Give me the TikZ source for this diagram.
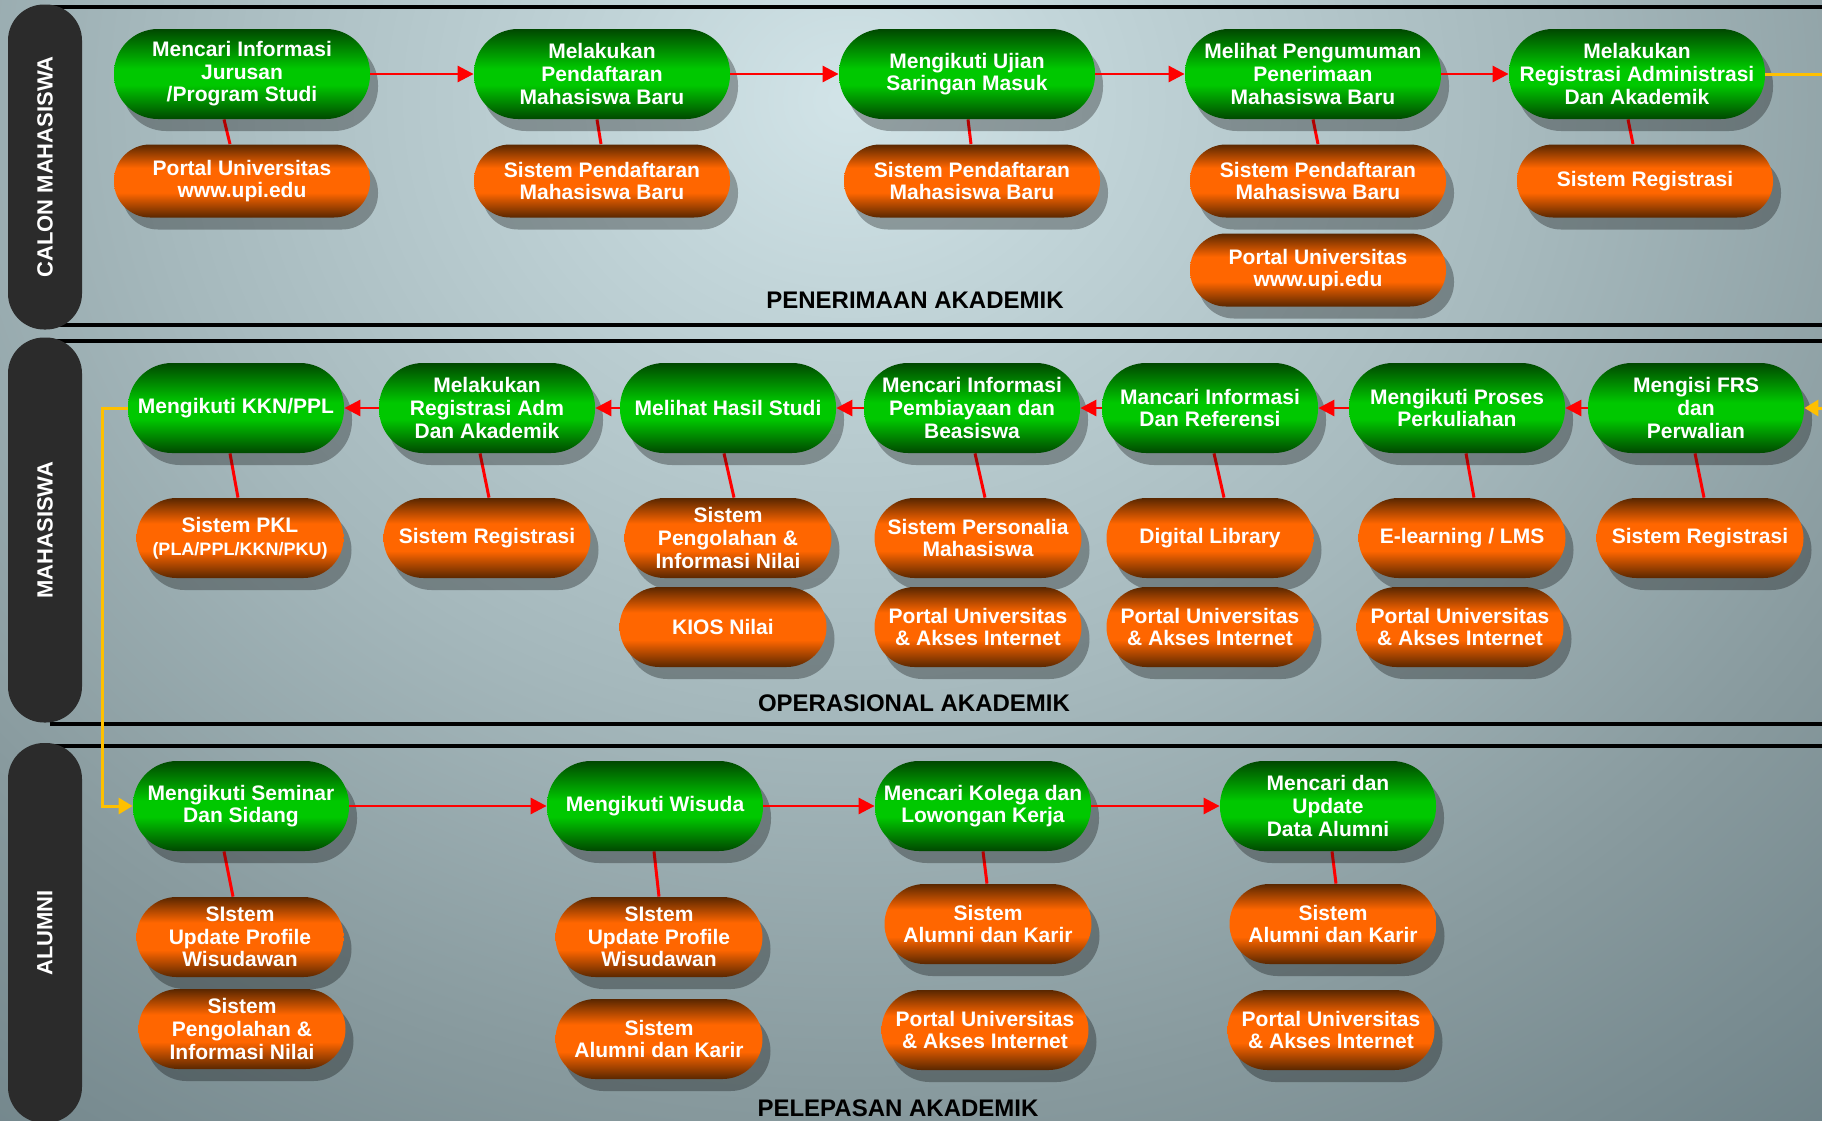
\documentclass[tikz,border=0pt]{standalone}
\usepackage{fontspec}
\setmainfont{Liberation Sans}
\usetikzlibrary{arrows.meta,shadows,backgrounds}

\definecolor{actdark}{HTML}{004800}
\definecolor{actlite}{HTML}{00C800}
\definecolor{sysdark}{HTML}{5A2700}
\definecolor{syslite}{HTML}{FF6600}
\definecolor{flowred}{HTML}{FF0000}
\definecolor{passgold}{HTML}{FFC000}
\definecolor{barfill}{HTML}{2B2B2B}
\definecolor{bgA}{HTML}{D2E4E8}
\definecolor{bgB}{HTML}{C2D5D9}
\definecolor{bgC}{HTML}{A5B8BC}
\definecolor{bgD}{HTML}{87999D}
\definecolor{bgE}{HTML}{6B7F85}

\pgfdeclareverticalshading{actshade}{100bp}{color(0bp)=(actdark); color(25bp)=(actdark); color(44bp)=(actlite); color(53bp)=(actlite); color(75bp)=(actdark); color(100bp)=(actdark)}
\pgfdeclareverticalshading{sysshade}{100bp}{color(0bp)=(sysdark); color(25bp)=(sysdark); color(42bp)=(syslite); color(59bp)=(syslite); color(75bp)=(sysdark); color(100bp)=(sysdark)}
\pgfdeclareradialshading{panelglow}{\pgfpointorigin}{color(0bp)=(bgA); color(3.5bp)=(bgB); color(11bp)=(bgC); color(18bp)=(bgD); color(25bp)=(bgE); color(50bp)=(bgE)}

\begin{document}
\begin{tikzpicture}[x=0.5pt, y=-0.5pt,
  act/.style={rectangle, rounded corners=22pt, minimum width=108pt, minimum height=45pt, inner sep=0pt, align=center, text=white, shading=actshade, drop shadow={shadow xshift=4pt, shadow yshift=-6pt, fill=black, opacity=0.3}, font=\fontsize{10.5}{11.3}\selectfont\bfseries},
  sys/.style={act, rounded corners=20pt, minimum width=103.5pt, minimum height=40pt, shading=sysshade},
  wide/.style={minimum width=128pt},
  slim/.style={minimum height=36.5pt, rounded corners=18pt},
  lane/.style={rectangle, rounded corners=18pt, fill=barfill, text=white, minimum height=37pt, minimum width=#1, inner sep=0pt, rotate=90, font=\fontsize{11}{13}\selectfont\bfseries},
  phase/.style={font=\fontsize{12}{14}\selectfont\bfseries},
  rule/.style={line width=2pt},
  flow/.style={flowred, line width=1.4pt, -{Triangle[length=8pt,width=8pt]}},
  tie/.style={flowred, line width=1.5pt},
  handoff/.style={passgold, line width=1.5pt}]
\useasboundingbox (0,0) rectangle (1822,1120);
\begin{scope}[on background layer]
\fill[bgE] (0,0) rectangle (1822,1120);
\shade[shading=panelglow] (850,100) ellipse [x radius=800pt, y radius=700pt];
\foreach \y in {7,325,341,724,746}
  \draw[rule] (50,\y) -- (1830,\y);
\end{scope}

\node[lane=162.5pt] (calon) at (45,167) {CALON MAHASISWA};
\node[lane=192.5pt] (mhs) at (45,530) {MAHASISWA};
\node[lane=190pt] (alumni) at (45,933) {ALUMNI};

\node[act, wide] (mencari) at (242,74) {Mencari Informasi\\Jurusan\\/Program Studi};
\node[act, wide] (daftar) at (602,74) {Melakukan\\Pendaftaran\\Mahasiswa Baru};
\node[act, wide] (ujian) at (967,74) {Mengikuti Ujian\\Saringan Masuk};
\node[act, wide] (umum) at (1313,74) {Melihat Pengumuman\\Penerimaan\\Mahasiswa Baru};
\node[act, wide] (regadm) at (1637,74) {Melakukan\\Registrasi Administrasi\\Dan Akademik};
\node[sys, wide, slim] (portal) at (242,181) {Portal Universitas\\www.upi.edu};
\node[sys, wide, slim] (sisdaftar) at (602,181) {Sistem Pendaftaran\\Mahasiswa Baru};
\node[sys, wide, slim] (sisujian) at (972,181) {Sistem Pendaftaran\\Mahasiswa Baru};
\node[sys, wide, slim] (sisumum) at (1318,181) {Sistem Pendaftaran\\Mahasiswa Baru};
\node[sys, wide, slim] (portalumum) at (1318,270) {Portal Universitas\\www.upi.edu};
\node[sys, wide, slim] (sisreg) at (1645,181) {Sistem Registrasi};
\node[phase] (terima) at (915,300) {PENERIMAAN AKADEMIK};

\node[act] (kkn) at (236,408) {Mengikuti KKN/PPL};
\node[act] (regakad) at (487,408) {Melakukan\\Registrasi Adm\\Dan Akademik};
\node[act] (hasil) at (728,408) {Melihat Hasil Studi};
\node[act] (biaya) at (972,408) {Mencari Informasi\\Pembiayaan dan\\Beasiswa};
\node[act] (referensi) at (1210,408) {Mancari Informasi\\Dan Referensi};
\node[act] (kuliah) at (1457,408) {Mengikuti Proses\\Perkuliahan};
\node[act] (frs) at (1696,408) {Mengisi FRS\\dan\\Perwalian};
\node[sys] (pkl) at (240,538) {Sistem PKL\\{\fontsize{9}{10.5}\selectfont(PLA/PPL/KKN/PKU)}};
\node[sys] (sisregB) at (487,538) {Sistem Registrasi};
\node[sys] (olahnilai) at (728,538) {Sistem\\Pengolahan \&\\Informasi Nilai};
\node[sys] (personalia) at (978,538) {Sistem Personalia\\Mahasiswa};
\node[sys] (library) at (1210,538) {Digital Library};
\node[sys] (lms) at (1462,538) {E-learning / LMS};
\node[sys] (sisregC) at (1700,538) {Sistem Registrasi};
\node[sys] (kios) at (723,627) {KIOS Nilai};
\node[sys] (portalB) at (978,627) {Portal Universitas\\\& Akses Internet};
\node[sys] (portalC) at (1210,627) {Portal Universitas\\\& Akses Internet};
\node[sys] (portalD) at (1460,627) {Portal Universitas\\\& Akses Internet};
\node[phase] (operasi) at (914,703) {OPERASIONAL AKADEMIK};

\node[act] (seminar) at (241,806) {Mengikuti Seminar\\Dan Sidang};
\node[act] (wisuda) at (655,806) {Mengikuti Wisuda};
\node[act] (kolega) at (983,806) {Mencari Kolega dan\\Lowongan Kerja};
\node[act] (updatedata) at (1328,806) {Mencari dan\\Update\\Data Alumni};
\node[sys] (profileA) at (240,937) {SIstem\\Update Profile\\Wisudawan};
\node[sys] (profileB) at (659,937) {SIstem\\Update Profile\\Wisudawan};
\node[sys] (karirA) at (988,924) {Sistem\\Alumni dan Karir};
\node[sys] (karirB) at (1333,924) {Sistem\\Alumni dan Karir};
\node[sys] (olahnilaiC) at (242,1029) {Sistem\\Pengolahan \&\\Informasi Nilai};
\node[sys] (karirC) at (659,1039) {Sistem\\Alumni dan Karir};
\node[sys] (portalE) at (985,1030) {Portal Universitas\\\& Akses Internet};
\node[sys] (portalF) at (1331,1030) {Portal Universitas\\\& Akses Internet};
\node[phase] (lepas) at (898,1108) {PELEPASAN AKADEMIK};

\begin{scope}[on background layer]
\foreach \g/\s/\a/\b in {mencari/portal/-9/-6, daftar/sisdaftar/-2.5/-0.5, ujian/sisujian/0.5/-0.5, umum/sisumum/0/0, regadm/sisreg/-4.5/-6,
    kkn/pkl/-3/-1, regakad/sisregB/-3.5/1, hasil/olahnilai/-2/3, biaya/personalia/1.5/3.5, referensi/library/2/7, kuliah/lms/4.5/6, frs/sisregC/-0.5/2,
    seminar/profileA/-8.5/-3.5, wisuda/profileB/-0.5/0, kolega/karirA/0/-0.5, updatedata/karirB/2/1.5}
  \draw[tie] ([xshift=\a pt]\g.south) -- ([xshift=\b pt]\s.north);
\end{scope}

\draw[flow] (mencari) -- (daftar);
\draw[flow] (daftar) -- (ujian);
\draw[flow] (ujian) -- (umum);
\draw[flow] (umum) -- (regadm);
\draw[flow] (frs) -- (kuliah);
\draw[flow] (kuliah) -- (referensi);
\draw[flow] (referensi) -- (biaya);
\draw[flow] (biaya) -- (hasil);
\draw[flow] (hasil) -- (regakad);
\draw[flow] (regakad) -- (kkn);
\draw[flow] (seminar) -- (wisuda);
\draw[flow] (wisuda) -- (kolega);
\draw[flow] (kolega) -- (updatedata);

\coordinate (outA) at (1840,74);
\coordinate (inB) at (1840,408);
\draw[handoff] (regadm.east) -- (outA);
\draw[handoff, -{Triangle[length=7pt,width=8pt]}] (inB) -- (frs);
\draw[handoff, -{Triangle[length=7pt,width=8pt]}] (kkn.west) -- ++(-25,0) |- (seminar.west);
\end{tikzpicture}
\end{document}
